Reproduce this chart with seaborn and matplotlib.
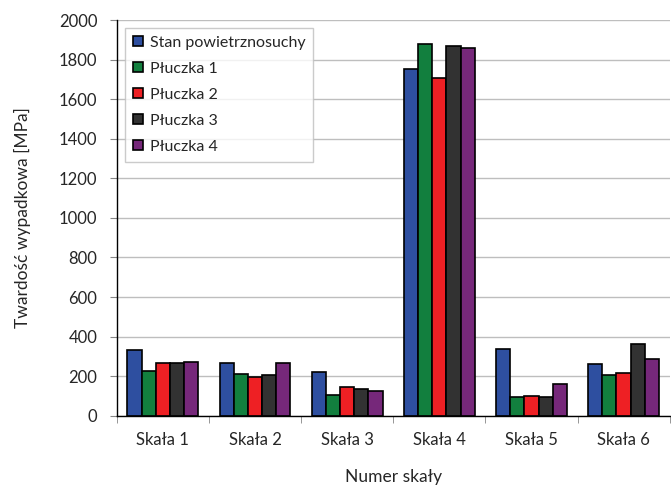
import matplotlib.pyplot as plt
import pandas as pd
import seaborn as sns
from matplotlib.ticker import FixedLocator


# -------------------------------------------------
# Data
# -------------------------------------------------

rocks = ["Skała 1", "Skała 2", "Skała 3", "Skała 4", "Skała 5", "Skała 6"]

series_names = [
    "Stan powietrznosuchy",
    "Płuczka 1",
    "Płuczka 2",
    "Płuczka 3",
    "Płuczka 4"
]

air_dry = [330, 268, 219, 1754, 337, 264]
mud_1 = [224, 209, 103, 1877, 96, 207]
mud_2 = [269, 194, 143, 1709, 101, 214]
mud_3 = [266, 204, 136, 1870, 96, 362]
mud_4 = [271, 269, 125, 1858, 162, 288]

colors = ["#2E4FA0", "#127F3E", "#EE2024", "#323232", "#76287A"]


# -------------------------------------------------
# Long table for seaborn
# -------------------------------------------------

rows = []
for name, values in zip(series_names, [air_dry, mud_1, mud_2, mud_3, mud_4]):
    for rock, value in zip(rocks, values):
        rows.append({"rock": rock, "series": name, "value": value})

df = pd.DataFrame(rows)


# -------------------------------------------------
# Plot
# -------------------------------------------------

sns.set_style("white")
plt.rcParams["font.family"] = ["Lato", "DejaVu Sans"]

fig = plt.figure(figsize=(6.71, 4.88), dpi=100)
ax = fig.add_axes([0.174, 0.148, 0.824, 0.811])

sns.barplot(
    data=df,
    x="rock",
    y="value",
    hue="series",
    palette=colors,
    saturation=1,
    width=0.77,
    edgecolor="black",
    linewidth=1.2,
    ax=ax
)

ax.set_ylim(0, 2000)
ax.set_xlim(-0.5, len(rocks) - 0.5)
ax.set_yticks(range(0, 2001, 200))
ax.yaxis.grid(True, color="#BEBEBE", linewidth=1)
ax.set_axisbelow(True)

for side in ["top", "right"]:
    ax.spines[side].set_visible(False)
for side in ["left", "bottom"]:
    ax.spines[side].set_color("black")
    ax.spines[side].set_linewidth(1)

ax.tick_params(axis="x", which="major", length=0, labelsize=12, pad=12)
ax.xaxis.set_minor_locator(
    FixedLocator([i + 0.5 for i in range(-1, len(rocks))])
)
ax.tick_params(
    axis="x", which="minor", length=5,
    color="#868686", direction="out", bottom=True
)
ax.tick_params(
    axis="y", length=5, color="#868686", direction="out",
    labelsize=12, left=True, pad=9
)

ax.set_xlabel("Numer skały", fontsize=12.5, labelpad=15)
ax.set_ylabel("Twardość wypadkowa [MPa]", fontsize=12.5, labelpad=20)

legend = ax.legend(
    loc="upper left",
    bbox_to_anchor=(0.0145, 0.98),
    borderaxespad=0,
    fontsize=11.5,
    frameon=True,
    fancybox=False,
    edgecolor="#BEBEBE",
    handlelength=0.65,
    handleheight=0.6,
    handletextpad=0.4,
    labelspacing=0.75,
    borderpad=0.5
)
legend.get_frame().set_linewidth(1)

plt.savefig("out.png", dpi=100)
plt.close()
